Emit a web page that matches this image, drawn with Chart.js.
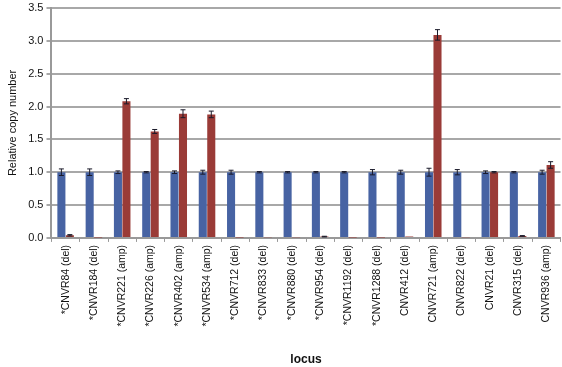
<!DOCTYPE html>
<html>
<head>
<meta charset="utf-8">
<script src="https://cdn.jsdelivr.net/npm/chart.js@4/dist/chart.umd.min.js"></script>
<style>
  html, body { margin: 0; padding: 0; background: #fff; }
  #wrap { width: 562px; height: 367px; position: relative; }
</style>
</head>
<body>
<div id="wrap"><canvas id="chart"></canvas></div>
<script>
const LOCI = [
  '*CNVR84 (del)', '*CNVR184 (del)', '*CNVR221 (amp)', '*CNVR226 (amp)',
  '*CNVR402 (amp)', '*CNVR534 (amp)', '*CNVR712 (del)', '*CNVR833 (del)',
  '*CNVR880 (del)', '*CNVR954 (del)', '*CNVR1192 (del)', '*CNVR1288 (del)',
  'CNVR412 (del)', 'CNVR721 (amp)', 'CNVR822 (del)', 'CNVR21 (del)',
  'CNVR315 (del)', 'CNVR936 (amp)'
]
const BLUE_VALUES = [1.0, 1.0, 1.0, 1.0, 1.0, 1.0, 1.0, 1.0, 1.0, 1.0, 1.0, 1.0, 1.0, 1.0, 1.0, 1.0, 1.0, 1.0]
const BLUE_ERRORS = [0.05, 0.05, 0.02, 0.01, 0.02, 0.03, 0.03, 0.01, 0.01, 0.01, 0.01, 0.04, 0.03, 0.06, 0.04, 0.02, 0.01, 0.03]
const RED_VALUES = [0.04, 0.005, 2.08, 1.62, 1.89, 1.88, 0.005, 0.01, 0.01, 0.02, 0.005, 0.005, 0.02, 3.09, 0.01, 1.0, 0.03, 1.11]
const RED_ERRORS = [0.01, 0, 0.04, 0.03, 0.06, 0.05, 0, 0, 0, 0.005, 0, 0, 0, 0.08, 0, 0.01, 0.005, 0.05]
const Y_TICKS = [0, 0.5, 1, 1.5, 2, 2.5, 3, 3.5]

const ERRORS = [BLUE_ERRORS, RED_ERRORS]

// draws the little error bars on top of each bar
const errorBars = {
  id: 'errorBars',
  afterDatasetsDraw(chart) {
    const ctx = chart.ctx
    const y = chart.scales.y
    chart.data.datasets.forEach((ds, i) => {
      const meta = chart.getDatasetMeta(i)
      meta.data.forEach((bar, j) => {
        const err = ERRORS[i][j]
        if (!err) return
        const v = ds.data[j]
        const top = y.getPixelForValue(v + err)
        const bot = y.getPixelForValue(v - err)
        ctx.save()
        ctx.strokeStyle = '#1a1a2a'
        ctx.lineWidth = 1
        ctx.beginPath()
        ctx.moveTo(bar.x, top)
        ctx.lineTo(bar.x, bot)
        ctx.moveTo(bar.x - 2.5, top)
        ctx.lineTo(bar.x + 2.5, top)
        ctx.moveTo(bar.x - 2.5, bot)
        ctx.lineTo(bar.x + 2.5, bot)
        ctx.stroke()
        ctx.restore()
      })
    })
  }
}

const ctx = document.getElementById('chart').getContext('2d')
new Chart(ctx, {
  type: 'bar',
  plugins: [errorBars],
  data: {
    labels: LOCI,
    datasets: [{
      label: 'Blue',
      data: BLUE_VALUES,
      backgroundColor: '#4763a3',
      barPercentage: 0.95,
      categoryPercentage: 0.6
    }, {
      label: 'Red',
      data: RED_VALUES,
      backgroundColor: '#9a3b37',
      barPercentage: 0.95,
      categoryPercentage: 0.6
    }]
  },
  options: {
    responsive: true,
    maintainAspectRatio: false,
    animation: false,
    layout: { padding: { top: 0, right: 1, left: 6, bottom: 0 } },
    plugins: {
      legend: { display: false },
      tooltip: { enabled: false }
    },
    scales: {
      x: {
        grid: {
          display: true,
          drawOnChartArea: false,
          color: '#999',
          tickLength: 4,
          offset: true
        },
        border: { color: '#999', width: 2 },
        ticks: {
          minRotation: 90,
          maxRotation: 90,
          autoSkip: false,
          color: '#111',
          padding: 3,
          font: { family: 'Liberation Sans, Arial', size: 10.5 }
        },
        title: {
          display: true,
          text: 'locus',
          color: '#111',
          font: { family: 'Liberation Sans, Arial', size: 12, weight: 'bold' },
          padding: { top: 23, bottom: 0 }
        }
      },
      y: {
        min: 0,
        max: 3.5,
        afterBuildTicks: (axis) => { axis.ticks = Y_TICKS.map(v => ({ value: v })) },
        grid: {
          color: '#a8a8a8',
          lineWidth: 2,
          tickLength: 5
        },
        border: { color: '#999', width: 2 },
        ticks: {
          color: '#111',
          padding: 3,
          font: { family: 'Liberation Sans, Arial', size: 11, lineHeight: 0.9 },
          callback: (v) => Number(v).toFixed(1)
        },
        title: {
          display: true,
          text: 'Relative copy number',
          color: '#111',
          font: { family: 'Liberation Sans, Arial', size: 11 },
          padding: { top: 0, bottom: 6 }
        }
      }
    }
  }
})
</script>
</body>
</html>
